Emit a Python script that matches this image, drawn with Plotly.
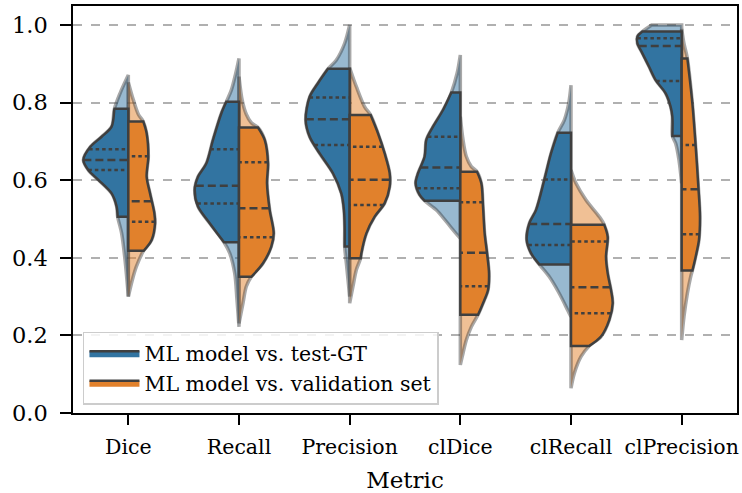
import numpy as np
import plotly.graph_objects as go

METRICS = ["Dice", "Recall", "Precision", "clDice", "clRecall", "clPrecision"]
SERIES = ["ML model vs. test-GT", "ML model vs. validation set"]
Y_TICKS = [0.0, 0.2, 0.4, 0.6, 0.8, 1.0]

# Kernel-density profiles (value, relative density; 44.3 = widest half violin)
TEST_Y = [
    [0.871, 0.824, 0.783, 0.738, 0.712, 0.686, 0.652, 0.626, 0.601, 0.566, 0.532, 0.506, 0.463, 0.394, 0.300],
    [0.914, 0.875, 0.832, 0.802, 0.772, 0.704, 0.643, 0.609, 0.575, 0.532, 0.489, 0.440, 0.412, 0.360, 0.291, 0.222],
    [1.000, 0.953, 0.910, 0.887, 0.850, 0.815, 0.755, 0.712, 0.669, 0.618, 0.566, 0.523, 0.480, 0.429, 0.386, 0.300],
    [0.923, 0.875, 0.826, 0.781, 0.738, 0.704, 0.661, 0.618, 0.592, 0.562, 0.547, 0.523, 0.493, 0.467, 0.450],
    [0.845, 0.798, 0.755, 0.722, 0.669, 0.601, 0.523, 0.489, 0.446, 0.412, 0.383, 0.351, 0.308, 0.265, 0.248],
    [1.000, 0.983, 0.970, 0.953, 0.927, 0.893, 0.858, 0.824, 0.789, 0.764, 0.714, 0.695, 0.652, 0.592],
]
TEST_W = [
    [0, 8.3, 14, 16.7, 26.7, 38, 45, 40, 30, 16.7, 11.7, 10.7, 6.7, 3.3, 0],
    [0, 3.3, 7.7, 12.7, 17.7, 26, 32.7, 41, 44.3, 41, 29.3, 15, 9.3, 4.3, 2, 0],
    [0, 5, 13.3, 21.7, 31.7, 40, 44, 40, 30, 16.7, 8.3, 5.7, 5, 5, 3.3, 0],
    [0, 3.3, 9, 17.3, 27.3, 34, 35.7, 42.3, 44.7, 40.7, 35.7, 24, 14, 5.7, 0],
    [0, 2.3, 6.7, 13.3, 20, 26.7, 35, 41.7, 44.3, 40, 31.7, 21.7, 11.7, 3.3, 0],
    [30, 39.3, 44.3, 44.3, 39.3, 32.7, 26, 16, 11, 9.3, 9.3, 6, 2.7, 0],
]
TEST_LO = [0.506, 0.440, 0.429, 0.547, 0.383, 0.714]
TEST_HI = [0.784, 0.802, 0.887, 0.826, 0.722, 0.983]
TEST_Q1 = [0.626, 0.540, 0.691, 0.579, 0.433, 0.856]
TEST_MED = [0.652, 0.586, 0.757, 0.633, 0.487, 0.946]
TEST_Q3 = [0.680, 0.680, 0.813, 0.712, 0.602, 0.966]

VAL_Y = [
    [0.852, 0.807, 0.770, 0.751, 0.721, 0.661, 0.609, 0.566, 0.515, 0.489, 0.446, 0.417, 0.377, 0.343, 0.300],
    [0.867, 0.805, 0.770, 0.748, 0.736, 0.704, 0.643, 0.592, 0.523, 0.463, 0.429, 0.386, 0.351, 0.326, 0.283, 0.231],
    [0.890, 0.841, 0.789, 0.768, 0.721, 0.669, 0.618, 0.583, 0.541, 0.506, 0.463, 0.412, 0.399, 0.369, 0.326, 0.283],
    [0.764, 0.704, 0.661, 0.635, 0.622, 0.592, 0.532, 0.463, 0.412, 0.360, 0.317, 0.283, 0.253, 0.222, 0.188, 0.154, 0.124],
    [0.626, 0.592, 0.549, 0.506, 0.485, 0.454, 0.403, 0.360, 0.317, 0.283, 0.240, 0.197, 0.173, 0.145, 0.102, 0.064],
    [0.990, 0.950, 0.914, 0.798, 0.687, 0.583, 0.506, 0.446, 0.403, 0.367, 0.351, 0.308, 0.248, 0.188],
]
VAL_W = [
    [0, 5, 10, 15, 18.3, 20, 18.3, 21.7, 26, 26.7, 23.3, 15, 8, 4, 0],
    [0, 3.3, 7.3, 12.3, 19, 25.7, 29, 28, 30.7, 34.7, 32.3, 24, 12.3, 7.3, 4, 0],
    [0, 6.7, 15, 21, 28.3, 35, 40, 40, 35, 25, 16.7, 11.7, 11, 6.7, 3.3, 0],
    [0, 2.7, 6, 11, 16.7, 21, 22.7, 24.3, 26.7, 28.7, 27.7, 22.7, 17.7, 11, 6, 2.7, 0],
    [0, 5, 15, 28.3, 33.3, 36.7, 35, 36.7, 40, 41.7, 38.3, 30, 18.3, 10, 3.3, 0],
    [0, 2.5, 5.7, 10.7, 14, 16.7, 18.3, 17.3, 14, 10.7, 9, 5.7, 2.3, 0],
]
VAL_LO = [0.418, 0.351, 0.399, 0.253, 0.173, 0.367]
VAL_HI = [0.751, 0.736, 0.768, 0.622, 0.485, 0.914]
VAL_Q1 = [0.493, 0.453, 0.536, 0.327, 0.257, 0.461]
VAL_MED = [0.546, 0.528, 0.601, 0.413, 0.324, 0.577]
VAL_Q3 = [0.662, 0.646, 0.686, 0.543, 0.442, 0.691]

# ---- styling ----
K = 0.4 / 44.3          # density -> half-width in category units
COLORS = ["#3274A1", "#E1812C"]
LIGHT = ["rgba(50,116,161,0.5)", "rgba(225,129,44,0.5)"]
EDGE_DARK = "#3f3f3f"
EDGE_LIGHT = "rgba(63,63,63,0.45)"
FONT = "DejaVu Serif"


def width_at(v, ys, ws):
    ys = np.asarray(ys, float)
    ws = np.asarray(ws, float)
    o = np.argsort(ys)
    return float(np.interp(v, ys[o], ws[o]))


def half_path(c, side, ys, ws, lo=None, hi=None):
    ys = np.asarray(ys, float)
    ws = np.asarray(ws, float)
    if lo is not None:
        m = (ys < hi) & (ys > lo)
        py = [hi] + list(ys[m]) + [lo]
        pw = [width_at(hi, ys, ws)] + list(ws[m]) + [width_at(lo, ys, ws)]
    else:
        py, pw = list(ys), list(ws)
    ex = [c + side * w * K for w in pw]
    xs = [c, c, ex[0], ex[0]] + ex[1:-1] + [ex[-1], ex[-1], c, c, c]
    yv = [py[0], py[0], py[0], py[0]] + py[1:-1] + [py[-1], py[-1], py[-1], py[-1], py[0]]
    return xs, yv


fig = go.Figure()

groups = [
    (TEST_Y, TEST_W, TEST_LO, TEST_HI, TEST_Q1, TEST_MED, TEST_Q3, -1),
    (VAL_Y, VAL_W, VAL_LO, VAL_HI, VAL_Q1, VAL_MED, VAL_Q3, 1),
]

# light full-range violins
for si, (YS, WS, LO, HI, Q1, MED, Q3, side) in enumerate(groups):
    for i in range(len(METRICS)):
        xs, yv = half_path(i, side, YS[i], WS[i])
        fig.add_trace(go.Scatter(
            x=xs, y=yv, mode="lines", fill="toself", fillcolor=LIGHT[si],
            line=dict(color=EDGE_LIGHT, width=3.5, shape="spline", smoothing=0.9),
            showlegend=False, hoverinfo="skip"))

# opaque clipped violins with quartiles
for si, (YS, WS, LO, HI, Q1, MED, Q3, side) in enumerate(groups):
    for i in range(len(METRICS)):
        xs, yv = half_path(i, side, YS[i], WS[i], LO[i], HI[i])
        fig.add_trace(go.Scatter(
            x=xs, y=yv, mode="lines", fill="toself", fillcolor=COLORS[si],
            line=dict(color=EDGE_DARK, width=2.5, shape="spline", smoothing=0.9),
            name=SERIES[si], legendgroup=SERIES[si], showlegend=(i == 0),
            hoverinfo="skip"))
        for q, dash in ((Q1[i], "3.5px,3px"), (MED[i], "8px,4px"), (Q3[i], "3.5px,3px")):
            w = width_at(q, YS[i], WS[i])
            fig.add_trace(go.Scatter(
                x=[i + side * w * K, i], y=[q, q], mode="lines",
                line=dict(color=EDGE_DARK, width=2.5, dash=dash),
                showlegend=False, hoverinfo="skip"))

fig.update_layout(
    width=742, height=493,
    margin=dict(l=73, r=5, t=6, b=80, autoexpand=False),
    paper_bgcolor="white", plot_bgcolor="white",
    font=dict(family=FONT, color="black"),
    showlegend=True,
    legend=dict(
        x=0.015, y=0.02, xanchor="left", yanchor="bottom",
        font=dict(family=FONT, size=20.5, color="black"),
        bgcolor="rgba(255,255,255,0.85)", bordercolor="#cccccc", borderwidth=1.5,
        itemwidth=50, tracegroupgap=0,
    ),
)
fig.update_xaxes(
    range=[-0.5, 5.5], tickmode="array", tickvals=list(range(len(METRICS))), ticktext=METRICS,
    showgrid=False, zeroline=False, automargin=False,
    showline=True, mirror=True, linecolor="black", linewidth=1.5,
    ticks="outside", ticklen=10, tickwidth=1.5, tickcolor="black", ticklabelstandoff=5,
    tickfont=dict(family=FONT, size=20.5, color="black"),
    title=dict(text="Metric", font=dict(family=FONT, size=23, color="black"), standoff=14),
)
fig.update_yaxes(
    range=[0, 1.049], tickmode="array", tickvals=Y_TICKS, ticktext=[f"{v:.1f}" for v in Y_TICKS],
    showgrid=True, gridcolor="#b0b0b0", gridwidth=1.5, griddash="dash", zeroline=False,
    automargin=False,
    showline=True, mirror=True, linecolor="black", linewidth=1.5,
    ticks="outside", ticklen=11, tickwidth=1.5, tickcolor="black", ticklabelstandoff=8,
    tickfont=dict(family=FONT, size=22.5, color="black"),
)

fig.write_html(
    "out.html",
    config={"displayModeBar": False},
    post_script="document.body.style.margin='0';document.body.style.padding='0';",
)
